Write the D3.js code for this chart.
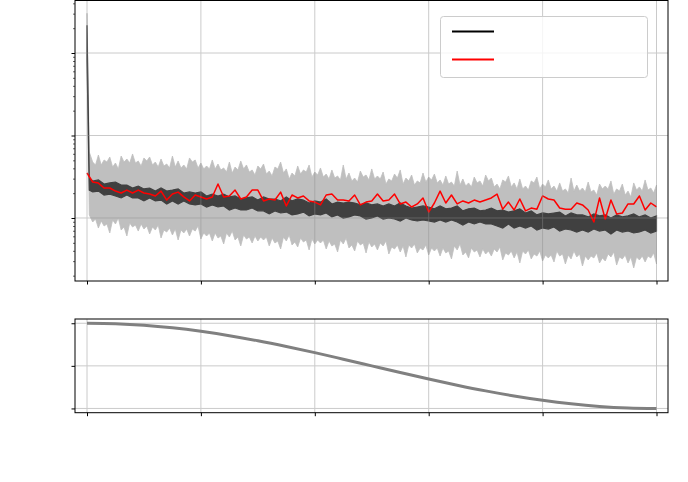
<!DOCTYPE html>
<html>
<head>
<meta charset="utf-8">
<script src="https://cdn.jsdelivr.net/npm/d3@7"></script>
<style>
  body { margin: 0; background: #fff; }
  svg { display: block; }
</style>
</head>
<body>
<div id="visualization"></div>
<script>
// ---- data ----
// steps for the per-step bands (first two points are the warm-up spike)
const bandSteps = [0, 400].concat(d3.range(1000, 100001, 1000));

// light grey band: spread of the per-step loss, at every 1000 steps
const grayUpper = [30.3, 0.630,
  0.477, 0.580, 0.505, 0.549, 0.464, 0.564, 0.519, 0.597, 0.491, 0.534,
  0.549, 0.477, 0.519, 0.451, 0.564, 0.491, 0.439, 0.534, 0.505, 0.464,
  0.427, 0.505, 0.451, 0.404, 0.477, 0.415, 0.491, 0.439, 0.382, 0.427,
  0.451, 0.371, 0.415, 0.477, 0.393, 0.351, 0.427, 0.382, 0.439, 0.361,
  0.404, 0.341, 0.382, 0.323, 0.439, 0.351, 0.305, 0.371, 0.332, 0.393,
  0.323, 0.361, 0.297, 0.341, 0.382, 0.305, 0.332, 0.281, 0.351, 0.314,
  0.341, 0.289, 0.323, 0.273, 0.371, 0.297, 0.266, 0.314, 0.281, 0.332,
  0.305, 0.258, 0.289, 0.323, 0.266, 0.297, 0.244, 0.281, 0.314, 0.258,
  0.289, 0.244, 0.266, 0.225, 0.305, 0.251, 0.231, 0.273, 0.218, 0.258,
  0.244, 0.281, 0.225, 0.258, 0.212, 0.266, 0.238, 0.289, 0.231, 0.251];
const grayLower = [8.18, 0.109,
  0.0894, 0.0756, 0.0800, 0.0658, 0.0846, 0.0715, 0.0605, 0.0778, 0.0695, 0.0735,
  0.0640, 0.0715, 0.0572, 0.0676, 0.0622, 0.0541, 0.0658, 0.0605, 0.0695, 0.0556,
  0.0605, 0.0526, 0.0572, 0.0484, 0.0588, 0.0541, 0.0458, 0.0556, 0.0498, 0.0526,
  0.0541, 0.0458, 0.0498, 0.0421, 0.0526, 0.0471, 0.0445, 0.0512, 0.0410, 0.0484,
  0.0498, 0.0421, 0.0458, 0.0387, 0.0484, 0.0433, 0.0398, 0.0471, 0.0377, 0.0445,
  0.0410, 0.0458, 0.0366, 0.0421, 0.0387, 0.0337, 0.0433, 0.0377, 0.0410, 0.0356,
  0.0398, 0.0346, 0.0377, 0.0319, 0.0410, 0.0356, 0.0328, 0.0387, 0.0337, 0.0366,
  0.0346, 0.0387, 0.0310, 0.0356, 0.0328, 0.0285, 0.0366, 0.0319, 0.0346, 0.0301,
  0.0328, 0.0293, 0.0346, 0.0277, 0.0319, 0.0337, 0.0262, 0.0310, 0.0328, 0.0285,
  0.0301, 0.0337, 0.0269, 0.0319, 0.0285, 0.0248, 0.0310, 0.0293, 0.0328, 0.0277];

// grey band between those points (steps 1500, 2500, ... 99500)
const grayUpperMid = [
  0.439, 0.439, 0.477, 0.415, 0.393, 0.477, 0.464, 0.464, 0.427, 0.491,
  0.439, 0.415, 0.427, 0.404, 0.415, 0.404, 0.393, 0.477, 0.404, 0.393,
  0.393, 0.393, 0.382, 0.361, 0.351, 0.382, 0.393, 0.361, 0.332, 0.393,
  0.341, 0.323, 0.393, 0.351, 0.297, 0.323, 0.341, 0.361, 0.314, 0.332,
  0.314, 0.297, 0.305, 0.289, 0.297, 0.281, 0.273, 0.314, 0.289, 0.297,
  0.297, 0.258, 0.281, 0.305, 0.258, 0.281, 0.251, 0.266, 0.273, 0.289,
  0.266, 0.251, 0.258, 0.244, 0.251, 0.244, 0.238, 0.266, 0.244, 0.281,
  0.238, 0.225, 0.273, 0.238, 0.225, 0.225, 0.218, 0.266, 0.225, 0.238,
  0.225, 0.212, 0.212, 0.201, 0.212, 0.212, 0.207, 0.207, 0.190, 0.225,
  0.225, 0.195, 0.212, 0.190, 0.180, 0.218, 0.212, 0.218, 0.201];
const grayLowerMid = [
  0.0972, 0.0920, 0.0846, 0.0946, 0.100, 0.0778, 0.0870, 0.0822, 0.0846, 0.0800,
  0.0778, 0.0822, 0.0715, 0.0756, 0.0735, 0.0715, 0.0735, 0.0735, 0.0800, 0.0658,
  0.0658, 0.0658, 0.0605, 0.0658, 0.0695, 0.0588, 0.0622, 0.0588, 0.0605, 0.0588,
  0.0588, 0.0572, 0.0526, 0.0588, 0.0622, 0.0512, 0.0572, 0.0541, 0.0556, 0.0541,
  0.0541, 0.0526, 0.0484, 0.0541, 0.0572, 0.0471, 0.0526, 0.0498, 0.0512, 0.0484,
  0.0498, 0.0526, 0.0445, 0.0471, 0.0458, 0.0471, 0.0484, 0.0433, 0.0471, 0.0433,
  0.0433, 0.0433, 0.0398, 0.0458, 0.0484, 0.0387, 0.0433, 0.0410, 0.0421, 0.0398,
  0.0421, 0.0445, 0.0377, 0.0398, 0.0387, 0.0398, 0.0410, 0.0366, 0.0398, 0.0356,
  0.0356, 0.0398, 0.0366, 0.0356, 0.0398, 0.0366, 0.0346, 0.0346, 0.0377, 0.0328,
  0.0366, 0.0387, 0.0337, 0.0356, 0.0337, 0.0337, 0.0346, 0.0346, 0.0377];

// dark band: the noisy training loss
const blackUpper = [21.7, 0.305,
  0.281, 0.289, 0.258, 0.266, 0.273, 0.251, 0.251, 0.231, 0.244, 0.225,
  0.231, 0.212, 0.231, 0.212, 0.218, 0.225, 0.201, 0.207, 0.201, 0.207,
  0.185, 0.195, 0.185, 0.195, 0.180, 0.185, 0.170, 0.175, 0.180, 0.165,
  0.180, 0.170, 0.170, 0.161, 0.180, 0.161, 0.170, 0.165, 0.152, 0.161,
  0.156, 0.170, 0.148, 0.156, 0.152, 0.156, 0.152, 0.144, 0.152, 0.144,
  0.148, 0.140, 0.148, 0.140, 0.152, 0.140, 0.132, 0.136, 0.140, 0.136,
  0.129, 0.140, 0.129, 0.132, 0.140, 0.122, 0.129, 0.132, 0.122, 0.125,
  0.132, 0.122, 0.125, 0.118, 0.122, 0.129, 0.115, 0.122, 0.109, 0.115,
  0.112, 0.115, 0.118, 0.106, 0.115, 0.109, 0.109, 0.103, 0.112, 0.106,
  0.109, 0.100, 0.109, 0.103, 0.106, 0.112, 0.103, 0.109, 0.100, 0.106];
const blackLower = [8.18, 0.218,
  0.207, 0.212, 0.190, 0.195, 0.185, 0.175, 0.190, 0.175, 0.175, 0.161,
  0.175, 0.161, 0.165, 0.148, 0.161, 0.148, 0.161, 0.148, 0.144, 0.148,
  0.136, 0.144, 0.136, 0.140, 0.125, 0.132, 0.125, 0.125, 0.132, 0.122,
  0.122, 0.112, 0.122, 0.115, 0.118, 0.109, 0.112, 0.118, 0.106, 0.112,
  0.109, 0.115, 0.103, 0.109, 0.100, 0.103, 0.109, 0.106, 0.0972, 0.100,
  0.106, 0.0972, 0.100, 0.0972, 0.0920, 0.100, 0.0946, 0.0920, 0.0946, 0.0920,
  0.0894, 0.0946, 0.0894, 0.0946, 0.0894, 0.0822, 0.0894, 0.0846, 0.0894, 0.0846,
  0.0846, 0.0800, 0.0756, 0.0846, 0.0756, 0.0800, 0.0756, 0.0800, 0.0715, 0.0756,
  0.0735, 0.0778, 0.0695, 0.0735, 0.0715, 0.0676, 0.0715, 0.0676, 0.0735, 0.0695,
  0.0715, 0.0640, 0.0715, 0.0676, 0.0695, 0.0658, 0.0676, 0.0715, 0.0658, 0.0695];

// red line: evaluation loss every 1000 steps
const redSteps = d3.range(0, 100001, 1000);
const redLoss = [
  0.351, 0.273, 0.265, 0.231, 0.231, 0.212, 0.201, 0.218, 0.201, 0.218,
  0.201, 0.195, 0.185, 0.212, 0.165, 0.195, 0.206, 0.180, 0.161, 0.190,
  0.180, 0.170, 0.180, 0.258, 0.180, 0.185, 0.218, 0.170, 0.180, 0.218,
  0.218, 0.161, 0.170, 0.165, 0.206, 0.140, 0.190, 0.175, 0.185, 0.161,
  0.156, 0.144, 0.190, 0.195, 0.165, 0.165, 0.161, 0.190, 0.144, 0.156,
  0.161, 0.195, 0.161, 0.165, 0.195, 0.148, 0.156, 0.136, 0.148, 0.175,
  0.118, 0.152, 0.212, 0.152, 0.190, 0.148, 0.161, 0.152, 0.165, 0.156,
  0.165, 0.175, 0.195, 0.128, 0.156, 0.125, 0.170, 0.122, 0.132, 0.128,
  0.185, 0.170, 0.165, 0.132, 0.128, 0.128, 0.152, 0.144, 0.125, 0.0895,
  0.175, 0.097, 0.165, 0.112, 0.115, 0.148, 0.148, 0.185, 0.125, 0.152,
  0.136];

// learning-rate schedule (lower panel)
const lrSteps = d3.range(0, 100001, 5000);
const lrValues = [1.0, 0.994, 0.976, 0.946, 0.905, 0.854, 0.794, 0.727, 0.655, 0.578,
  0.5, 0.422, 0.345, 0.273, 0.206, 0.146, 0.095, 0.054, 0.024, 0.006, 0.0];

// tick values
const xTicks = [0, 20000, 40000, 60000, 80000, 100000];
const lossTicks = [0.1, 1, 10];
const lrTicks = [0, 0.5, 1];

// ---- layout ----
const width = 688, height = 482;
const left = 75, right = 668;
const top1 = 0.5, bottom1 = 281;
const top2 = 319, bottom2 = 412.7;

const gridColor = "#8c8c8c";

const svg = d3.select("#visualization")
  .append("svg")
  .attr("width", width)
  .attr("height", height);

// shared x scale
const x = d3.scaleLinear()
  .domain([0, 100000])
  .range([87, 656.5]);

// log y scale for the loss panel
const yLoss = d3.scaleLog()
  .domain([0.01723, 43.3])
  .range([bottom1, top1]);

// linear y scale for the lr panel
const yLr = d3.scaleLinear()
  .domain([-0.05, 1.05])
  .range([bottom2, top2]);

// interleave the grey band points with the in-between points
const grayRows = [];
bandSteps.forEach((s, i) => {
  grayRows.push({ step: s, hi: grayUpper[i], lo: grayLower[i] });
  const k = i - 2; // index into the mid arrays
  if (k >= 0 && k < grayUpperMid.length) {
    grayRows.push({ step: s + 500, hi: grayUpperMid[k], lo: grayLowerMid[k] });
  }
});
const blackRows = bandSteps.map((s, i) => ({ step: s, hi: blackUpper[i], lo: blackLower[i] }));

// clip paths
const defs = svg.append("defs");
defs.append("clipPath").attr("id", "clip1")
  .append("rect").attr("x", left).attr("y", top1)
  .attr("width", right - left).attr("height", bottom1 - top1);
defs.append("clipPath").attr("id", "clip2")
  .append("rect").attr("x", left).attr("y", top2)
  .attr("width", right - left).attr("height", bottom2 - top2);

// ===== top panel =====
const g1 = svg.append("g").attr("clip-path", "url(#clip1)");

const band = d3.area()
  .x(d => x(d.step))
  .y0(d => yLoss(d.lo))
  .y1(d => yLoss(d.hi));

// grey band
g1.append("path")
  .datum(grayRows)
  .attr("fill", "#bfbfbf")
  .attr("stroke", "#bfbfbf")
  .attr("stroke-width", 0.8)
  .attr("stroke-linejoin", "miter")
  .attr("d", band);

// dark band
g1.append("path")
  .datum(blackRows)
  .attr("fill", "#404040")
  .attr("stroke", "#404040")
  .attr("stroke-width", 1.2)
  .attr("d", band);

// red line
g1.append("path")
  .datum(redSteps)
  .attr("fill", "none")
  .attr("stroke", "#ff0000")
  .attr("stroke-width", 1.5)
  .attr("stroke-linejoin", "round")
  .attr("d", d3.line()
    .x(d => x(d))
    .y((d, i) => yLoss(redLoss[i])));

// grid (drawn over the data, semi transparent)
const grid1 = svg.append("g").attr("opacity", 0.45);
grid1.selectAll("line.vx")
  .data(xTicks)
  .enter().append("line")
    .attr("x1", d => x(d)).attr("x2", d => x(d))
    .attr("y1", top1).attr("y2", bottom1)
    .attr("stroke", gridColor).attr("stroke-width", 1);
grid1.selectAll("line.hy")
  .data(lossTicks)
  .enter().append("line")
    .attr("x1", left).attr("x2", right)
    .attr("y1", d => yLoss(d)).attr("y2", d => yLoss(d))
    .attr("stroke", gridColor).attr("stroke-width", 1);

// legend
const legend = svg.append("g");
legend.append("rect")
  .attr("x", 440.5).attr("y", 16.5)
  .attr("width", 207).attr("height", 61)
  .attr("rx", 3)
  .attr("fill", "#ffffff").attr("fill-opacity", 0.8)
  .attr("stroke", "#cccccc").attr("stroke-width", 1);
legend.append("line")
  .attr("x1", 452).attr("x2", 494).attr("y1", 31.5).attr("y2", 31.5)
  .attr("stroke", "#000000").attr("stroke-width", 2.2);
legend.append("line")
  .attr("x1", 452).attr("x2", 494).attr("y1", 59.5).attr("y2", 59.5)
  .attr("stroke", "#ff0000").attr("stroke-width", 2.2);

// frame
svg.append("rect")
  .attr("x", left).attr("y", top1)
  .attr("width", right - left).attr("height", bottom1 - top1)
  .attr("fill", "none").attr("stroke", "#000").attr("stroke-width", 1);

// axes of the top panel (no labels)
svg.append("g")
  .attr("transform", `translate(0, ${bottom1})`)
  .call(d3.axisBottom(x).tickValues(xTicks).tickSize(3.5).tickFormat(""))
  .call(g => g.select(".domain").remove());

const minorLoss = [];
[0.01, 0.1, 1, 10].forEach(dec => {
  for (let k = 2; k <= 9; k++) {
    const v = dec * k;
    if (v >= 0.01723 && v <= 43.3) minorLoss.push(v);
  }
});
svg.append("g")
  .attr("transform", `translate(${left}, 0)`)
  .call(d3.axisLeft(yLoss).tickValues(lossTicks).tickSize(3.5).tickFormat(""))
  .call(g => g.select(".domain").remove());
svg.append("g")
  .attr("transform", `translate(${left}, 0)`)
  .call(d3.axisLeft(yLoss).tickValues(minorLoss).tickSize(2).tickFormat(""))
  .call(g => g.select(".domain").remove())
  .call(g => g.selectAll("line").attr("stroke-width", 0.6));

// ===== bottom panel =====
const grid2 = svg.append("g").attr("opacity", 0.45);
grid2.selectAll("line.vx")
  .data(xTicks)
  .enter().append("line")
    .attr("x1", d => x(d)).attr("x2", d => x(d))
    .attr("y1", top2).attr("y2", bottom2)
    .attr("stroke", gridColor).attr("stroke-width", 1);
grid2.selectAll("line.hy")
  .data(lrTicks)
  .enter().append("line")
    .attr("x1", left).attr("x2", right)
    .attr("y1", d => yLr(d)).attr("y2", d => yLr(d))
    .attr("stroke", gridColor).attr("stroke-width", 1);

svg.append("g").attr("clip-path", "url(#clip2)")
  .append("path")
  .datum(lrSteps)
  .attr("fill", "none")
  .attr("stroke", "#808080")
  .attr("stroke-width", 3)
  .attr("d", d3.line()
    .curve(d3.curveMonotoneX)
    .x(d => x(d))
    .y((d, i) => yLr(lrValues[i])));

svg.append("rect")
  .attr("x", left).attr("y", top2)
  .attr("width", right - left).attr("height", bottom2 - top2)
  .attr("fill", "none").attr("stroke", "#000").attr("stroke-width", 1);

svg.append("g")
  .attr("transform", `translate(0, ${bottom2})`)
  .call(d3.axisBottom(x).tickValues(xTicks).tickSize(3.5).tickFormat(""))
  .call(g => g.select(".domain").remove());
svg.append("g")
  .attr("transform", `translate(${left}, 0)`)
  .call(d3.axisLeft(yLr).tickValues(lrTicks).tickSize(3.5).tickFormat(""))
  .call(g => g.select(".domain").remove());
</script>
</body>
</html>
